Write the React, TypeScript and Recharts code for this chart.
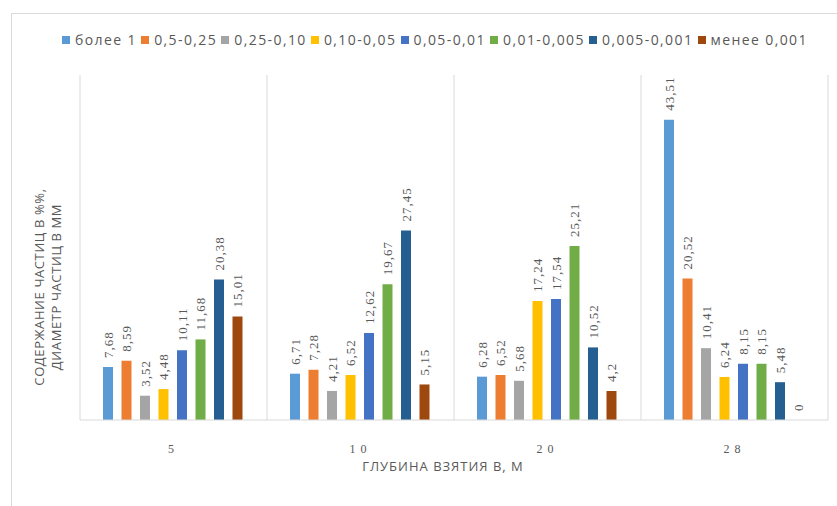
import React from 'react';
import {
  BarChart,
  Bar,
  XAxis,
  YAxis,
  CartesianGrid,
  Legend,
  LabelList,
} from 'recharts';

// Depth of sampling, m
const depths = ['5', '10', '20', '28'];

// Particle size fractions, mm
const fractions = [
  'более 1',
  '0,5-0,25',
  '0,25-0,10',
  '0,10-0,05',
  '0,05-0,01',
  '0,01-0,005',
  '0,005-0,001',
  'менее 0,001',
];

const colors = ['#5b9bd5', '#ed7d31', '#a5a5a5', '#ffc000', '#4472c4', '#70ad47', '#255e91', '#9e480e'];

// Content of each fraction, % (one value per depth)
const over1 = [7.68, 6.71, 6.28, 43.51];
const f05_025 = [8.59, 7.28, 6.52, 20.52];
const f025_010 = [3.52, 4.21, 5.68, 10.41];
const f010_005 = [4.48, 6.52, 17.24, 6.24];
const f005_001 = [10.11, 12.62, 17.54, 8.15];
const f001_0005 = [11.68, 19.67, 25.21, 8.15];
const f0005_0001 = [20.38, 27.45, 10.52, 5.48];
const under0001 = [15.01, 5.15, 4.2, 0];

const seriesValues = [over1, f05_025, f025_010, f010_005, f005_001, f001_0005, f0005_0001, under0001];

const data = depths.map((depth, i) => {
  const row: Record<string, string | number> = { depth };
  fractions.forEach((name, s) => {
    row[`s${s}`] = seriesValues[s][i];
  });
  return row;
});

const grey = '#595959';
const sans = '"Open Sans", "Noto Sans", sans-serif';
const serif = '"Liberation Serif", "DejaVu Serif", serif';

const fmt = (v: number) => String(v).replace('.', ',');

const ValueLabel = (props: any) => {
  const { x, y, width, value } = props;
  const cx = Number(x) + Number(width) / 2;
  const top = Number(y) - 9;
  return (
    <text
      transform={`translate(${cx}, ${top}) rotate(-90)`}
      textAnchor="start"
      dominantBaseline="central"
      fill={grey}
      fontSize={13}
      fontFamily={serif}
      letterSpacing={1}
    >
      {fmt(Number(value))}
    </text>
  );
};

const LegendContent = () => (
  <div
    style={{
      display: 'flex',
      justifyContent: 'space-between',
      marginLeft: 62,
      width: 746,
      fontFamily: sans,
      fontSize: 14,
      letterSpacing: 1.4,
      color: grey,
    }}
  >
    {fractions.map((name, i) => (
      <span key={name} style={{ display: 'flex', alignItems: 'center', whiteSpace: 'nowrap' }}>
        <span style={{ width: 8, height: 8, background: colors[i], marginRight: 5, display: 'inline-block' }} />
        {name}
      </span>
    ))}
  </div>
);

const YTitle = () => {
  const cy = 287;
  const style = { fontFamily: sans, fontSize: 13, fill: grey, letterSpacing: 0.6 };
  return (
    <g>
      <text transform={`translate(39, ${cy}) rotate(-90)`} textAnchor="middle" dominantBaseline="central" {...style}>
        СОДЕРЖАНИЕ ЧАСТИЦ В %%,
      </text>
      <text transform={`translate(56, ${cy}) rotate(-90)`} textAnchor="middle" dominantBaseline="central" {...style}>
        ДИАМЕТР ЧАСТИЦ В ММ
      </text>
    </g>
  );
};

const XTitle = (props: any) => {
  const { viewBox } = props;
  return (
    <text
      x={viewBox.x + viewBox.width / 2 - 11}
      y={466}
      textAnchor="middle"
      dominantBaseline="central"
      fontFamily={sans}
      fontSize={13}
      letterSpacing={1}
      fill={grey}
    >
      ГЛУБИНА ВЗЯТИЯ В, М
    </text>
  );
};

export default function App() {
  return (
    <div style={{ position: 'absolute', left: 0, top: 0, width: 837, height: 506, background: '#fff', overflow: 'hidden' }}>
      <div
        style={{
          position: 'absolute',
          left: 11,
          top: 13,
          width: 900,
          height: 600,
          borderLeft: '1px solid #d9d9d9',
          borderTop: '1px solid #d9d9d9',
        }}
      />
      <BarChart
        width={837}
        height={506}
        data={data}
        margin={{ top: 45, right: 9, bottom: 56, left: 20 }}
        barCategoryGap={23}
        barGap={8.5}
        style={{ position: 'absolute', left: 0, top: 0 }}
      >
        <CartesianGrid
          horizontal={false}
          stroke="#d9d9d9"
          verticalCoordinatesGenerator={({ offset }: any) =>
            depths.map((_, i) => offset.left + (i * offset.width) / depths.length).concat(offset.left + offset.width)
          }
        />
        <Legend
          verticalAlign="top"
          height={30}
          content={<LegendContent />}
          wrapperStyle={{ top: 30, left: 0, width: 837 }}
        />
        <XAxis
          dataKey="depth"
          axisLine={{ stroke: '#d9d9d9' }}
          tickLine={false}
          tickMargin={18}
          height={30}
          tick={{ fill: grey, fontSize: 12, fontFamily: serif, letterSpacing: 5 }}
          label={{ content: <XTitle /> }}
        />
        <YAxis
          width={60}
          domain={[0, 50]}
          axisLine={false}
          tickLine={false}
          tick={false}
          label={{ content: <YTitle /> }}
        />
        {fractions.map((name, s) => (
          <Bar
            key={name}
            dataKey={`s${s}`}
            name={name}
            fill={colors[s]}
            minPointSize={0.01}
            isAnimationActive={false}
          >
            <LabelList dataKey={`s${s}`} content={<ValueLabel />} />
          </Bar>
        ))}
      </BarChart>
    </div>
  );
}
